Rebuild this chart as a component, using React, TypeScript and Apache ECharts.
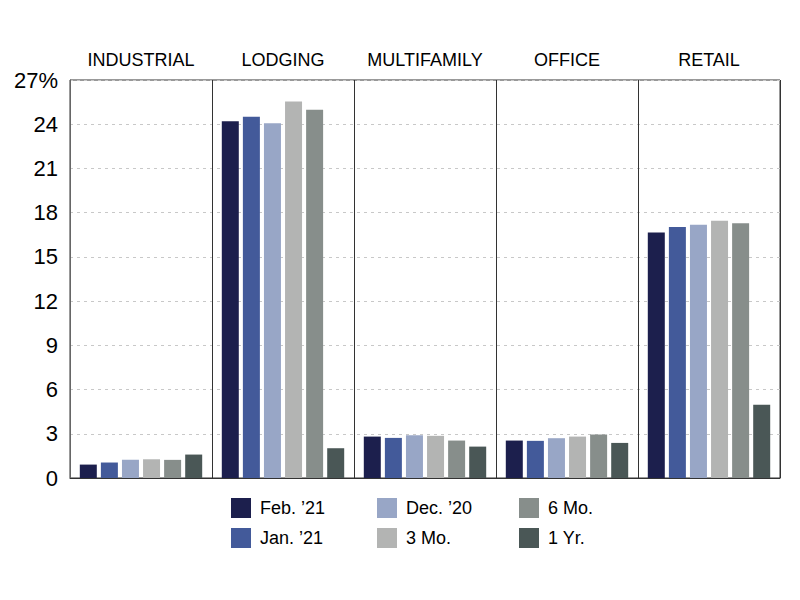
import React, { useEffect, useRef } from "react";
import * as echarts from "echarts";

const categories = ["INDUSTRIAL", "LODGING", "MULTIFAMILY", "OFFICE", "RETAIL"];
const seriesNames = ["Feb. \u201921", "Jan. \u201921", "Dec. \u201920", "3 Mo.", "6 Mo.", "1 Yr."];
const feb21 = [0.91, 24.2, 2.81, 2.54, 16.66];
const jan21 = [1.05, 24.5, 2.72, 2.52, 17.02];
const dec20 = [1.23, 24.07, 2.9, 2.7, 17.18];
const mo3 = [1.27, 25.54, 2.86, 2.81, 17.45];
const mo6 = [1.23, 24.98, 2.54, 2.95, 17.29];
const yr1 = [1.59, 2.02, 2.13, 2.38, 4.97];
const seriesValues = [feb21, jan21, dec20, mo3, mo6, yr1];
const colors = ["#1c1f4d", "#435a9a", "#98a6c6", "#b3b4b3", "#878e8b", "#4a5756"];

export default function App() {
  const ref = useRef<HTMLDivElement>(null);
  useEffect(() => {
    if (!ref.current) return;
    const chart = echarts.init(ref.current, undefined, { renderer: "svg" });
    const font = "Liberation Sans, Arial, sans-serif";
    const legendBase = {
      orient: "vertical",
      itemWidth: 20,
      itemHeight: 20,
      itemGap: 10,
      top: 498,
      icon: "rect",
      textStyle: { fontSize: 18, color: "#000", fontFamily: font, padding: [0, 0, 0, 4] },
      padding: 0,
    };
    chart.setOption({
      animation: false,
      grid: {
        left: 70,
        right: 20,
        top: 80,
        bottom: 122,
        show: true,
        borderColor: "#333",
        borderWidth: 1,
      },
      legend: [
        { ...legendBase, left: 231, data: [seriesNames[0], seriesNames[1]] },
        { ...legendBase, left: 377, data: [seriesNames[2], seriesNames[3]] },
        { ...legendBase, left: 519, data: [seriesNames[4], seriesNames[5]] },
      ],
      xAxis: {
        type: "category",
        data: categories,
        position: "top",
        axisLine: { show: true, lineStyle: { color: "#333" } },
        axisTick: { show: false },
        axisLabel: { color: "#000", fontSize: 18, fontFamily: font, margin: 11, interval: 0, hideOverlap: false },
        splitLine: { show: true, interval: 0, lineStyle: { color: "#333", width: 1 } },
      },
      yAxis: {
        type: "value",
        min: 0,
        max: 27,
        interval: 3,
        axisLine: { show: true, lineStyle: { color: "#666" } },
        axisTick: { show: false },
        axisLabel: {
          color: "#000",
          fontSize: 22,
          fontFamily: font,
          margin: 12,
          formatter: (v: number) => (v === 27 ? "27%" : String(v)),
        },
        splitLine: { show: true, lineStyle: { color: "#c8c8c8", type: [3, 4], width: 1 } },
      },
      series: seriesValues.map((vals, i) => ({
        name: seriesNames[i],
        type: "bar",
        data: vals,
        barWidth: 17,
        barGap: "24%",
        barCategoryGap: "14%",
        itemStyle: { color: colors[i] },
      })),
    });
    return () => chart.dispose();
  }, []);
  return <div ref={ref} style={{ width: 800, height: 600, marginLeft: -8, marginTop: -8 }} />;
}
